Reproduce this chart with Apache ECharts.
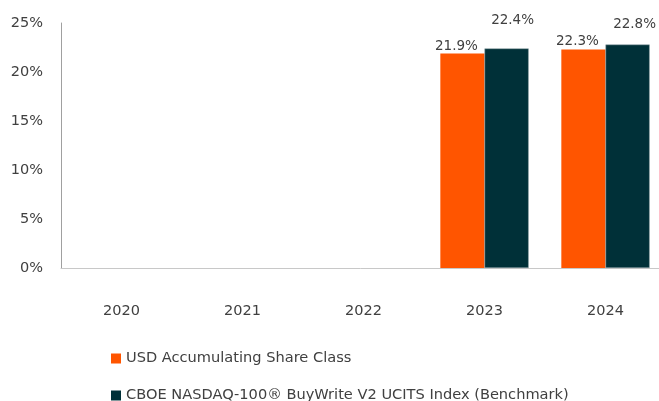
<!DOCTYPE html>
<html><head><meta charset="utf-8">
<script src="https://cdn.jsdelivr.net/npm/echarts@6/dist/echarts.min.js"></script>
<style>html,body{margin:0;padding:0;background:#fff}#c{width:659px;height:401px}</style>
</head><body><div id="c"></div>
<script>
const categories = ['2020', '2021', '2022', '2023', '2024'];
const seriesNames = ['USD Accumulating Share Class', 'CBOE NASDAQ-100\u00ae BuyWrite V2 UCITS Index (Benchmark)'];
const fundValues = [null, null, null, 21.9, 22.3];
const benchmarkValues = [null, null, null, 22.4, 22.8];
const yTicks = [0, 5, 10, 15, 20, 25];

// label placement (styling only)
const fundLabelOffsets = [[0,0],[0,0],[0,0],[-6,5],[-6,4]];
const benchLabelOffsets = [[0,0],[0,0],[0,0],[6,-16],[7,-8]];

const FONT = 'DejaVu Sans';
const TXT = '#404040';
function items(vals, offs) {
  return vals.map((v, i) => v == null ? null : { value: v, label: { offset: offs[i] } });
}
const legendBase = {
  orient: 'horizontal', left: 106, itemWidth: 10, itemHeight: 10, icon: 'rect',
  itemStyle: { borderWidth: 0 },
  textStyle: { color: TXT, fontSize: 14.6, fontFamily: FONT, padding: [0, 0, 0, 0] }
};
const chart = echarts.init(document.getElementById('c'));
chart.setOption({
  animation: false,
  textStyle: { fontFamily: FONT },
  grid: { left: 61, width: 605, top: 23, height: 245, outerBoundsMode: 'none', containLabel: false },
  xAxis: {
    type: 'category', data: categories,
    axisLine: { lineStyle: { color: '#c8c8c8', width: 1 } },
    axisTick: { show: false },
    axisLabel: { color: TXT, fontSize: 14.5, margin: 36, fontFamily: FONT }
  },
  yAxis: {
    type: 'value', min: yTicks[0], max: yTicks[yTicks.length - 1], interval: 5,
    axisLine: { show: true, lineStyle: { color: '#a0a0a0', width: 1 } },
    axisTick: { show: false },
    splitLine: { show: false },
    axisLabel: { color: TXT, fontSize: 14.5, margin: 18, fontFamily: FONT, formatter: v => v + '%' }
  },
  legend: [
    Object.assign({}, legendBase, { top: 346, data: [seriesNames[0]] }),
    Object.assign({}, legendBase, { top: 383, data: [seriesNames[1]] })
  ],
  series: [
    {
      name: seriesNames[0], type: 'bar', data: items(fundValues, fundLabelOffsets),
      barGap: '0%', barCategoryGap: '27%',
      itemStyle: { color: '#FF5500' },
      label: { show: true, position: 'top', color: TXT, fontSize: 13.5, fontFamily: FONT, formatter: p => p.value.toFixed(1) + '%' }
    },
    {
      name: seriesNames[1], type: 'bar', data: items(benchmarkValues, benchLabelOffsets),
      barGap: '0%', barCategoryGap: '27%',
      itemStyle: { color: '#003038', borderColor: '#8fa3a6', borderWidth: 0.5 },
      label: { show: true, position: 'top', color: TXT, fontSize: 13.5, fontFamily: FONT, formatter: p => p.value.toFixed(1) + '%' }
    }
  ]
});
</script></body></html>
